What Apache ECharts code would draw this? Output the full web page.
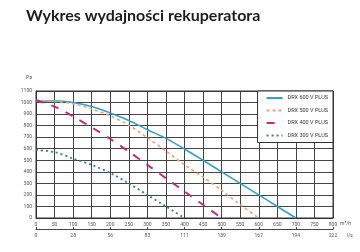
<!DOCTYPE html>
<html><head><meta charset="utf-8">
<script src="https://cdn.jsdelivr.net/npm/echarts@6/dist/echarts.min.js"></script>
<style>html,body{margin:0;padding:0;background:#fff}#c{width:360px;height:252px}</style>
</head><body><div id="c"></div>
<script>
var titleText = 'Wykres wydajności rekuperatora';
var seriesNames = ['DRX 600 V PLUS', 'DRX 500 V PLUS', 'DRX 400 V PLUS', 'DRX 300 V PLUS'];
var flow600 = [0, 50, 100, 150, 200, 250, 300, 350, 400, 450, 500, 550, 600, 650, 700];
var pa600   = [1010, 1015, 1000, 965, 910, 845, 765, 690, 598, 500, 400, 300, 200, 100, 0];
var flow500 = [0, 50, 100, 150, 200, 250, 300, 350, 400, 450, 500, 550, 600];
var pa500   = [1020, 1010, 990, 945, 885, 805, 695, 580, 460, 355, 240, 115, 0];
var flow400 = [0, 50, 100, 150, 200, 250, 300, 350, 400, 450, 500];
var pa400   = [1020, 965, 880, 785, 685, 575, 460, 345, 230, 115, 0];
var flow300 = [0, 50, 100, 150, 200, 250, 300, 350, 400];
var pa300   = [590, 570, 515, 460, 390, 300, 200, 100, 0];
var lsLabels = ['0', '28', '56', '83', '111', '139', '167', '194', '222'];
var unitY = 'Pa', unitX = 'm³/h', unitX2 = 'l/s';

function pairs(xs, ys) { return xs.map(function (x, i) { return [x, ys[i]]; }); }
var colors = ['#35a0c6', '#eea273', '#c42a7c', '#2f8a66'];
var styles = [
  {width: 1.6, type: 'solid'},
  {width: 1.6, type: [3, 3]},
  {width: 2, type: [8, 8]},
  {width: 1.8, type: [2, 3]}
];
var datas = [pairs(flow600, pa600), pairs(flow500, pa500), pairs(flow400, pa400), pairs(flow300, pa300)];

var lbl = {fontSize: 5, color: '#555', fontFamily: 'Roboto'};
var chart = echarts.init(document.getElementById('c'));
chart.setOption({
  animation: false,
  title: {text: titleText, left: 21, top: 3, textStyle: {fontFamily: 'Lato', fontWeight: 'bold', fontSize: 16, color: '#1d1d1b'}},
  grid: {left: 36, right: 27, top: 91, bottom: 34},
  legend: {
    orient: 'vertical', right: 27, top: 91, data: seriesNames,
    backgroundColor: '#fff', borderColor: '#333', borderWidth: 1,
    padding: [4, 5, 4, 8], itemWidth: 16, itemHeight: 4, itemGap: 6.5,
    itemStyle: {opacity: 0},
    textStyle: {fontSize: 5.5, color: '#333', fontFamily: 'Roboto'}
  },
  xAxis: [
    {type: 'value', min: 0, max: 800, interval: 50, position: 'bottom',
     axisLine: {show: true, lineStyle: {color: '#333', width: 1}},
     axisTick: {show: false}, axisLabel: Object.assign({margin: 4}, lbl),
     splitLine: {show: true, lineStyle: {color: '#444', width: 1}}},
    {type: 'value', min: 0, max: 800, interval: 100, position: 'bottom', offset: 11,
     axisLine: {show: true, onZero: false, lineStyle: {color: '#444', width: 1}},
     axisTick: {show: true, inside: true, length: 2, lineStyle: {color: '#444'}},
     axisLabel: Object.assign({margin: 4, formatter: function (v) { return lsLabels[Math.round(v / 100)]; }}, lbl),
     splitLine: {show: false}}
  ],
  yAxis: {type: 'value', min: 0, max: 1100, interval: 100,
    axisLine: {show: true, lineStyle: {color: '#333'}}, axisTick: {show: false},
    axisLabel: Object.assign({margin: 4, formatter: function (v) { return String(v); }}, lbl),
    splitLine: {show: true, lineStyle: {color: '#444', width: 1}}},
  graphic: [
    {type: 'rect', shape: {x: 36, y: 91, width: 297, height: 127}, style: {fill: 'none', stroke: '#333', lineWidth: 1}, silent: true, z: 1},
    {type: 'text', left: 26, top: 75, style: {text: unitY, fontSize: 5, fill: '#555', fontFamily: 'Roboto'}},
    {type: 'text', left: 340, top: 221, style: {text: unitX, fontSize: 5, fill: '#555', fontFamily: 'Roboto'}},
    {type: 'text', left: 347, top: 233, style: {text: unitX2, fontSize: 5, fill: '#555', fontFamily: 'Roboto'}}
  ],
  series: seriesNames.map(function (n, i) {
    return {name: n, type: 'line', data: datas[i], smooth: 0.3, symbol: 'none', showSymbol: false,
      color: colors[i], lineStyle: {color: colors[i], width: styles[i].width, type: styles[i].type}, z: 3};
  })
});
</script></body></html>
